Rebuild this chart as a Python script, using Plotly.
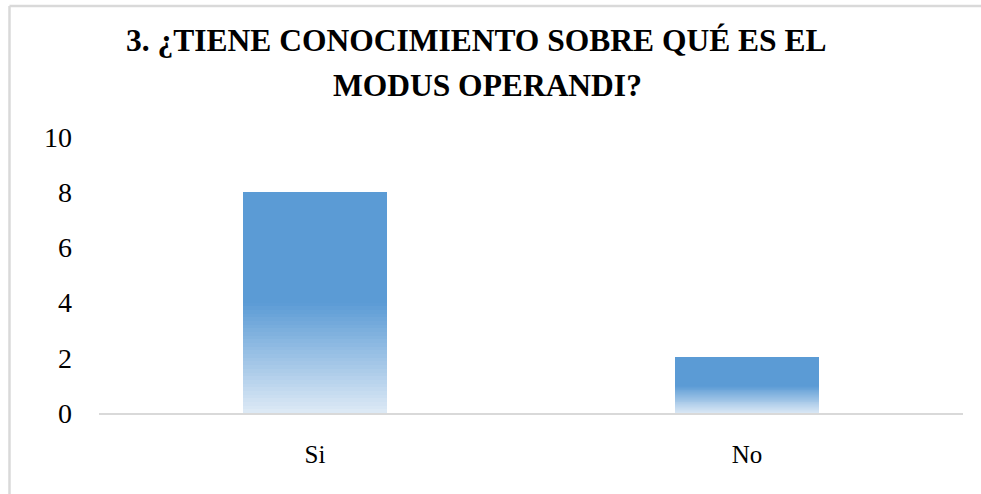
"""
Bar chart: ¿Tiene conocimiento sobre qué es el modus operandi?
"""
import plotly.graph_objects as go

categories = ["Si", "No"]
values = [8, 2]
y_ticks = [0, 2, 4, 6, 8, 10]

TITLE_LINES = ["3. ¿TIENE CONOCIMIENTO SOBRE QUÉ ES EL", "MODUS OPERANDI?"]
SERIF = "Liberation Serif, serif"

# gradient: solid blue on the top half of each bar, fading to pale blue at the base
TOP_RGB = (91, 155, 213)
BASE_RGB = (222, 234, 246)
SOLID_FROM = 0.5
N_STEPS = 60


def step_color(frac):
    # frac = relative position inside the bar (0 bottom, 1 top)
    t = min(frac / SOLID_FROM, 1.0)
    rgb = [round(b + (a - b) * t) for a, b in zip(TOP_RGB, BASE_RGB)]
    return "rgb({},{},{})".format(*rgb)


fig = go.Figure()

# each bar is split into thin stacked slices so the fill can fade vertically
for i in range(N_STEPS):
    frac = (i + 0.5) / N_STEPS
    fig.add_trace(go.Bar(
        x=categories,
        y=[v / N_STEPS for v in values],
        width=0.333,
        marker=dict(color=step_color(frac), line=dict(width=0)),
        showlegend=False,
        hoverinfo='skip'
    ))

# light grey frame around the chart area
frame = dict(type='line', xref='paper', yref='paper',
             line=dict(color='#d9d9d9', width=2.5))
fig.add_shape(frame, x0=-0.1036, x1=-0.1036, y0=-0.35, y1=1.4746)
fig.add_shape(frame, x0=-0.1036, x1=1.05, y0=1.4746, y1=1.4746)

# title: one annotation per line (the original centres them slightly differently)
for line, x, y in zip(TITLE_LINES, [0.4363, 0.4497], [1.348, 1.188]):
    fig.add_annotation(
        text="<b>" + line + "</b>",
        xref='paper', yref='paper',
        x=x, y=y, xanchor='center', yanchor='middle',
        showarrow=False,
        font=dict(family=SERIF, size=31.5, color='black')
    )

fig.update_layout(
    barmode='stack',
    bargap=0,
    font=dict(family=SERIF, color='black'),
    xaxis=dict(
        showline=True, linecolor='#d9d9d9', linewidth=2,
        showgrid=False, ticks='', ticklabelstandoff=18,
        tickfont=dict(family=SERIF, size=25, color='black')
    ),
    yaxis=dict(
        range=[0, 10], tickvals=y_ticks,
        showline=False, showgrid=False, zeroline=False,
        ticks='', ticklabelstandoff=26,
        tickfont=dict(family=SERIF, size=28, color='black')
    ),
    width=981,
    height=494,
    margin=dict(l=99, r=18, t=137, b=81),
    plot_bgcolor='white',
    paper_bgcolor='white'
)

# drop the browser's default page margin so the figure sits at the window corner
fig.write_html("out.html", config={'displayModeBar': False},
               post_script="document.body.style.margin = '0px';")
